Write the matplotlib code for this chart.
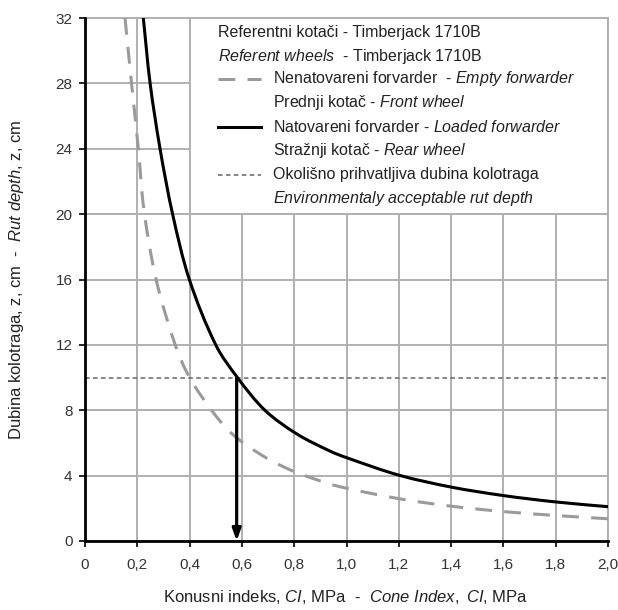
import matplotlib
matplotlib.use("Agg")
import matplotlib.pyplot as plt
import numpy as np
from matplotlib.patches import Rectangle, PathPatch
from matplotlib.path import Path
from matplotlib.lines import Line2D

plt.rcParams['font.family'] = ['Liberation Sans', 'DejaVu Sans']
plt.rcParams['mathtext.fontset'] = 'custom'
plt.rcParams['mathtext.rm'] = 'Liberation Sans'
plt.rcParams['mathtext.it'] = 'Liberation Sans:italic'

# Data
loaded_x = [0.223, 0.249, 0.287, 0.335, 0.399, 0.50, 0.583, 0.688, 0.81, 0.937, 1.0, 1.2, 1.4, 1.6, 1.8, 2.0]
loaded_y = [32, 28, 24, 20, 16, 12, 10, 8, 6.55, 5.5, 5.1, 4.03, 3.3, 2.78, 2.39, 2.1]
empty_x = [0.153, 0.178, 0.204, 0.225, 0.272, 0.345, 0.40, 0.491, 0.567, 0.669, 0.771, 0.873, 0.975, 1.2, 1.4, 1.6, 1.8, 2.0]
empty_y = [32, 28, 24, 20.3, 16, 12, 10, 7.85, 6.49, 5.32, 4.45, 3.82, 3.32, 2.59, 2.13, 1.8, 1.56, 1.36]
acceptable_depth = 10
ci_at_limit = 0.58
x_ticks = [0, 0.2, 0.4, 0.6, 0.8, 1.0, 1.2, 1.4, 1.6, 1.8, 2.0]
x_tick_labels = ["0", "0,2", "0,4", "0,6", "0,8", "1,0", "1,2", "1,4", "1,6", "1,8", "2,0"]
y_ticks = [0, 4, 8, 12, 16, 20, 24, 28, 32]

X_SCALE, Y_SCALE = 523 / 2.0, 523 / 32.0  # pixels per data unit (for chord weights)


def smooth_path(xs, ys):
    """Smoothed line: cubic Bezier segments through the data points
    (chord-length weighted Catmull-Rom tangents)."""
    p = np.column_stack([xs, ys]).astype(float)
    n = len(p)
    q = p * np.array([X_SCALE, Y_SCALE])
    d = np.hypot(*np.diff(q, axis=0).T)  # pixel chord lengths
    tang = np.zeros_like(p)
    for i in range(n):
        if i == 0:
            tang[i] = (p[1] - p[0]) / d[0]
        elif i == n - 1:
            tang[i] = (p[-1] - p[-2]) / d[-1]
        else:
            tang[i] = (p[i + 1] - p[i - 1]) / (d[i - 1] + d[i])
    verts = [p[0]]
    codes = [Path.MOVETO]
    for i in range(n - 1):
        c1 = p[i] + tang[i] * d[i] / 3.0
        c2 = p[i + 1] - tang[i + 1] * d[i] / 3.0
        verts += [c1, c2, p[i + 1]]
        codes += [Path.CURVE4] * 3
    return Path(verts, codes)


W, H = 618, 610
fig = plt.figure(figsize=(W / 100, H / 100), dpi=100)
ax = fig.add_axes([85 / W, (H - 541) / H, 523 / W, 523 / H])
ax.set_xlim(0, 2.0)
ax.set_ylim(0, 32)

ax.set_xticks(x_ticks)
ax.set_xticklabels(x_tick_labels)
ax.set_yticks(y_ticks)
ax.tick_params(direction='out', length=4, width=1.2, colors='black',
               labelcolor='#333333', labelsize=11)
ax.tick_params(axis='x', pad=8)
ax.tick_params(axis='y', pad=5)
ax.grid(True, color='#b0b0b0', linewidth=1.4, zorder=0)
ax.set_axisbelow(True)
for s in ['top', 'right']:
    ax.spines[s].set_color('#b0b0b0')
    ax.spines[s].set_linewidth(1.4)
for s in ['left', 'bottom']:
    ax.spines[s].set_color('black')
    ax.spines[s].set_linewidth(2)
    ax.spines[s].set_zorder(6)

# legend box covering grid
ax.add_patch(Rectangle((0.4, 20), 1.6, 12, facecolor='white', edgecolor='#b0b0b0',
                       linewidth=1.4, zorder=2))

ax.axhline(acceptable_depth, color='#666666', linewidth=1.1, linestyle=(0, (3, 2.2)), zorder=3)
ax.add_patch(PathPatch(smooth_path(empty_x, empty_y), facecolor='none', edgecolor='#9a9a9a',
                       linewidth=2.2, linestyle=(0, (5.5, 4)), zorder=4))
ax.add_patch(PathPatch(smooth_path(loaded_x, loaded_y), facecolor='none', edgecolor='black',
                       linewidth=2.2, zorder=5))
ax.annotate('', xy=(ci_at_limit, 0), xytext=(ci_at_limit, acceptable_depth),
            arrowprops=dict(arrowstyle='-|>,head_length=0.7,head_width=0.25',
                            color='black', lw=2.3, shrinkA=0, shrinkB=0), zorder=6)


def px(x, y):
    return (x / W, 1 - y / H)


fs = 11.5
rows = [32, 56, 79, 103, 127, 151, 175, 199]
tx0, tx1 = 218, 273
texts = [
    (tx0, r"Referentni kotači - Timberjack 1710B"),
    (tx0, r"$\mathit{Referent\ wheels}$  - Timberjack 1710B"),
    (tx1, r"Nenatovareni forvarder  - $\mathit{Empty\ forwarder}$"),
    (tx1, r"Prednji kotač - $\mathit{Front\ wheel}$"),
    (tx1, r"Natovareni forvarder - $\mathit{Loaded\ forwarder}$"),
    (tx1, r"Stražnji kotač - $\mathit{Rear\ wheel}$"),
    (tx1, r"Okolišno prihvatljiva dubina kolotraga"),
    (tx1, r"$\mathit{Environmentaly\ acceptable\ rut\ depth}$"),
]
for (x, t), y in zip(texts, rows):
    fig.text(*px(x, y), t, fontsize=fs, color='#222222', va='center', ha='left', zorder=10)


def handle(y, **kw):
    x0, y0 = px(218, y)
    x1, _ = px(261, y)
    fig.add_artist(Line2D([x0, x1], [y0, y0], **kw))


handle(rows[2], color='#9a9a9a', linewidth=2.2, linestyle=(0, (5.5, 4)))
handle(rows[4], color='black', linewidth=2.2)
handle(rows[6], color='#666666', linewidth=1.1, linestyle=(0, (3, 2.2)))

fig.text(*px(346, 597),
         r"Konusni indeks, $\mathit{CI}$, MPa  -  $\mathit{Cone\ Index,\ CI}$, MPa",
         fontsize=12, color='#222222', ha='center', va='center')
fig.text(*px(17, 280),
         r"Dubina kolotraga, z, cm  -  $\mathit{Rut\ depth}$, z, cm",
         fontsize=12, color='#222222', ha='center', va='center', rotation=90)

fig.savefig('out.png', dpi=100)
